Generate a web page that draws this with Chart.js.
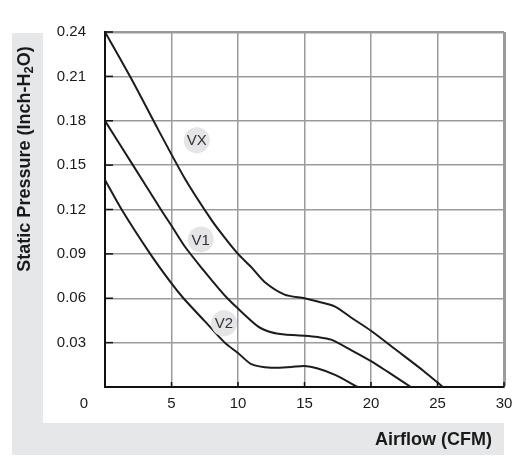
<!DOCTYPE html>
<html>
<head>
<meta charset="utf-8">
<script src="https://cdn.jsdelivr.net/npm/chart.js@4/dist/chart.umd.min.js"></script>
<style>
  html, body { margin: 0; padding: 0; background: #fff; }
  #wrap { width: 515px; height: 461px; position: relative; }
</style>
</head>
<body>
<div id="wrap"><canvas id="chart-pq" width="515" height="461"></canvas></div>
<script>
// airflow (CFM) / static pressure (inch-H2O)
const airflowVX = [0, 2, 4, 6, 8, 9, 10, 11, 12, 13.5, 15, 16, 17.3, 18.5, 20, 22, 24, 25.4];
const pressureVX = [0.24, 0.208, 0.174, 0.141, 0.113, 0.101, 0.09, 0.081, 0.071, 0.0625, 0.06, 0.0578, 0.0544, 0.047, 0.038, 0.0243, 0.0105, 0];

const airflowV1 = [0, 2.1, 4.2, 5, 6, 7.4, 8.6, 9.2, 10, 11.5, 12.5, 13.5, 15, 16, 17, 18.5, 20, 21.3, 23];
const pressureV1 = [0.18, 0.15, 0.12, 0.109, 0.095, 0.079, 0.066, 0.06, 0.053, 0.041, 0.037, 0.0355, 0.0347, 0.0338, 0.032, 0.025, 0.0175, 0.01, 0];

const airflowV2 = [0, 1.25, 3.4, 5, 5.9, 7.5, 9, 10, 11, 12.5, 14, 15, 16, 17.3, 19];
const pressureV2 = [0.14, 0.12, 0.09, 0.07, 0.06, 0.0445, 0.03, 0.023, 0.0155, 0.013, 0.0135, 0.0142, 0.0125, 0.0082, 0];

const curveNames = ['VX', 'V1', 'V2'];
// where the name bubbles sit, in chart units
const nameAirflow = [6.9, 7.2, 8.95];
const namePressure = [0.1668, 0.0998, 0.0431];

const xTicks = [0, 5, 10, 15, 20, 25, 30];
const yTicks = [0, 0.03, 0.06, 0.09, 0.12, 0.15, 0.18, 0.21, 0.24];

const FONT = '"Liberation Sans", Arial, sans-serif';

const toPoints = (xs, ys) => xs.map((x, i) => ({ x: x, y: ys[i] }));

const decor = {
    id: 'decor',
    beforeDraw(chart) {
        const c = chart.ctx;
        c.save();
        c.fillStyle = '#e6e7e9';
        c.fillRect(12, 33, 31, 422);
        c.fillRect(12, 423, 492, 32);
        c.restore();
    },
    afterDatasetsDraw(chart) {
        const c = chart.ctx;
        const { x, y } = chart.scales;
        const area = chart.chartArea;
        c.save();
        // short dark ticks on the inside of the two axes
        c.strokeStyle = '#111';
        c.lineWidth = 1.5;
        yTicks.forEach(v => {
            const py = y.getPixelForValue(v);
            c.beginPath(); c.moveTo(area.left, py); c.lineTo(area.left + 8, py); c.stroke();
        });
        xTicks.forEach(v => {
            const px = x.getPixelForValue(v);
            c.beginPath(); c.moveTo(px, area.bottom); c.lineTo(px, area.bottom - 5); c.stroke();
        });
        // curve name bubbles
        c.font = '15px ' + FONT;
        c.textAlign = 'center';
        c.textBaseline = 'middle';
        curveNames.forEach((name, i) => {
            const px = x.getPixelForValue(nameAirflow[i]);
            const py = y.getPixelForValue(namePressure[i]);
            c.fillStyle = '#e5e5e7';
            c.beginPath(); c.arc(px, py, 13, 0, Math.PI * 2); c.fill();
            c.fillStyle = '#333';
            c.fillText(name, px, py + 1);
        });
        c.restore();
    },
    afterDraw(chart) {
        const c = chart.ctx;
        c.save();
        c.fillStyle = '#1a1a1a';
        c.textBaseline = 'middle';

        // shared origin label
        c.font = '15px ' + FONT;
        c.textAlign = 'center';
        c.fillText('0', 84, 404);

        // x title
        c.font = 'bold 18px ' + FONT;
        c.textAlign = 'right';
        c.fillText('Airflow (CFM)', 492, 440);

        // y title with subscript
        const part1 = 'Static Pressure (Inch-H', sub = '2', part2 = 'O)';
        const big = 'bold 18px ' + FONT, small = 'bold 13px ' + FONT;
        c.font = big;
        const w1 = c.measureText(part1).width, w3 = c.measureText(part2).width;
        c.font = small;
        const w2 = c.measureText(sub).width;
        c.translate(25, 159);
        c.rotate(-Math.PI / 2);
        let sx = -(w1 + w2 + w3) / 2;
        c.textAlign = 'left';
        c.font = big; c.fillText(part1, sx, 0); sx += w1;
        c.font = small; c.fillText(sub, sx, 4); sx += w2;
        c.font = big; c.fillText(part2, sx, 0);
        c.restore();
    }
};

const lineStyle = { borderColor: '#1c1c1c', borderWidth: 2, pointRadius: 0, tension: 0.25, fill: false };

new Chart(document.getElementById('chart-pq'), {
    type: 'line',
    data: {
        datasets: [
            { label: 'VX', data: toPoints(airflowVX, pressureVX), ...lineStyle },
            { label: 'V1', data: toPoints(airflowV1, pressureV1), ...lineStyle },
            { label: 'V2', data: toPoints(airflowV2, pressureV2), ...lineStyle }
        ]
    },
    options: {
        responsive: false,
        animation: false,
        layout: { padding: { top: 32, right: 11, left: 0, bottom: 0 } },
        plugins: { legend: { display: false }, tooltip: { enabled: false } },
        scales: {
            x: {
                type: 'linear',
                min: 0, max: 30,
                afterFit: s => { s.height = 74; },
                afterBuildTicks: s => { s.ticks = xTicks.map(v => ({ value: v })); },
                ticks: {
                    padding: 0,
                    maxRotation: 0,
                    color: '#1a1a1a',
                    font: { family: FONT, size: 15 },
                    callback: v => (v === 0 ? '' : String(v))
                },
                grid: {
                    drawTicks: true,
                    tickLength: 8,
                    tickColor: 'rgba(0,0,0,0)',
                    color: '#9b9b9b',
                    lineWidth: ctx => (ctx.index === xTicks.length - 1 ? 3 : 1.5)
                },
                border: { color: '#111', width: 2 }
            },
            y: {
                min: 0, max: 0.24,
                afterFit: s => { s.width = 105; },
                afterBuildTicks: s => { s.ticks = yTicks.map(v => ({ value: v })); },
                ticks: {
                    padding: 19,
                    color: '#1a1a1a',
                    font: { family: FONT, size: 15 },
                    callback: v => (v === 0 ? '' : v.toFixed(2))
                },
                grid: {
                    drawTicks: false,
                    color: '#9b9b9b',
                    lineWidth: ctx => (ctx.index === yTicks.length - 1 ? 2.5 : 1.5)
                },
                border: { color: '#111', width: 2 }
            }
        }
    },
    plugins: [decor]
});
</script>
</body>
</html>
